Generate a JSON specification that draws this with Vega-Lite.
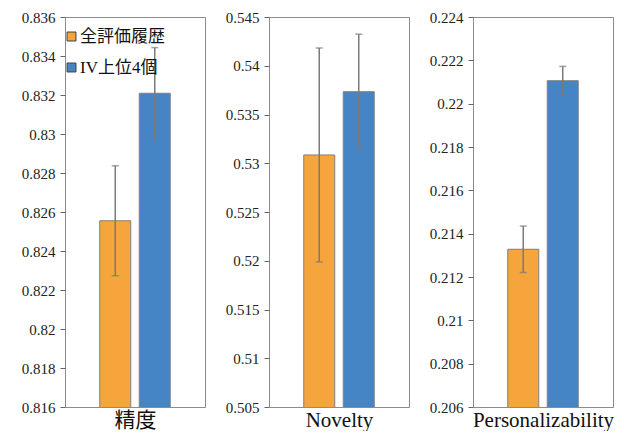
{
  "$schema": "https://vega.github.io/schema/vega-lite/v6.json",
  "padding": {"left": 20, "top": 9, "right": 5, "bottom": 0},
  "background": "white",
  "config": {
    "view": {"stroke": "#8c8c8c", "strokeWidth": 1},
    "font": "Times New Roman, Liberation Serif, serif",
    "axis": {"grid": false, "domain": false, "tickColor": "#666666", "labelColor": "#222222", "labelFont": "Times New Roman, Liberation Serif, serif", "labelFontSize": 15, "titleFont": "Times New Roman, Liberation Serif, Noto Sans CJK JP, serif", "titleFontSize": 21, "titleFontWeight": "normal", "titleColor": "#111111"},
    "legend": {"labelFont": "Times New Roman, Liberation Serif, Noto Sans CJK JP, serif"},
    "concat": {"spacing": 18}
  },
  "datasets": {
    "d": [
      {"metric": "精度", "method": "全評価履歴", "value": 0.82555, "err": 0.00282},
      {"metric": "精度", "method": "IV上位4個", "value": 0.83209, "err": 0.00234},
      {"metric": "Novelty", "method": "全評価履歴", "value": 0.53085, "err": 0.01097},
      {"metric": "Novelty", "method": "IV上位4個", "value": 0.53734, "err": 0.0059},
      {"metric": "Personalizability", "method": "全評価履歴", "value": 0.21328, "err": 0.00107},
      {"metric": "Personalizability", "method": "IV上位4個", "value": 0.22106, "err": 0.00066}
    ]
  },
  "resolve": {"legend": {"fill": "independent"}, "scale": {"y": "independent"}},
  "hconcat": [
    {
      "width": 140, "height": 390,
      "data": {"name": "d"},
      "transform": [{"filter": "datum.metric === '精度'"}],
      "encoding": {
        "x": {"field": "method", "type": "nominal", "sort": ["全評価履歴", "IV上位4個"], "scale": {"paddingInner": 0.215, "paddingOuter": 0.88}, "axis": {"title": "精度", "labels": false, "ticks": false, "titlePadding": 2}},
        "y": {"field": "value", "type": "quantitative", "scale": {"domain": [0.816, 0.836], "zero": false, "nice": false}, "axis": {"title": null, "values": [0.816, 0.818, 0.82, 0.822, 0.824, 0.826, 0.828, 0.83, 0.832, 0.834, 0.836], "format": "~g", "tickSize": 5, "labelPadding": 5}}
      },
      "layer": [
        {"mark": {"type": "bar", "stroke": "#7f7f7f", "strokeWidth": 1, "clip": true},
         "encoding": {"fill": {"field": "method", "type": "nominal", "scale": {"domain": ["全評価履歴", "IV上位4個"], "range": ["#F5A53C", "#4585C6"]},
           "legend": {"orient": "none", "legendX": -2, "legendY": 11, "padding": 0, "title": null, "symbolType": "square", "symbolSize": 80, "symbolStrokeColor": "#404040", "symbolStrokeWidth": 1, "labelFontSize": 17, "labelColor": "#111111", "rowPadding": 13, "labelOffset": 0}}}},
        {"mark": {"type": "errorbar", "ticks": {"size": 7}, "color": "#7a7a7a", "thickness": 1.5}, "encoding": {"yError": {"field": "err"}}}
      ]
    },
    {
      "width": 140, "height": 390,
      "data": {"name": "d"},
      "transform": [{"filter": "datum.metric === 'Novelty'"}],
      "encoding": {
        "x": {"field": "method", "type": "nominal", "sort": ["全評価履歴", "IV上位4個"], "scale": {"paddingInner": 0.215, "paddingOuter": 0.88}, "axis": {"title": "Novelty", "labels": false, "ticks": false, "titlePadding": 2}},
        "y": {"field": "value", "type": "quantitative", "scale": {"domain": [0.505, 0.545], "zero": false, "nice": false}, "axis": {"title": null, "values": [0.505, 0.51, 0.515, 0.52, 0.525, 0.53, 0.535, 0.54, 0.545], "format": "~g", "tickSize": 5, "labelPadding": 5}}
      },
      "layer": [
        {"mark": {"type": "bar", "stroke": "#7f7f7f", "strokeWidth": 1, "clip": true},
         "encoding": {"fill": {"field": "method", "type": "nominal", "scale": {"domain": ["全評価履歴", "IV上位4個"], "range": ["#F5A53C", "#4585C6"]}, "legend": null}}},
        {"mark": {"type": "errorbar", "ticks": {"size": 7}, "color": "#7a7a7a", "thickness": 1.5}, "encoding": {"yError": {"field": "err"}}}
      ]
    },
    {
      "width": 140, "height": 390,
      "data": {"name": "d"},
      "transform": [{"filter": "datum.metric === 'Personalizability'"}],
      "encoding": {
        "x": {"field": "method", "type": "nominal", "sort": ["全評価履歴", "IV上位4個"], "scale": {"paddingInner": 0.215, "paddingOuter": 0.88}, "axis": {"title": "Personalizability", "labels": false, "ticks": false, "titlePadding": 2}},
        "y": {"field": "value", "type": "quantitative", "scale": {"domain": [0.206, 0.224], "zero": false, "nice": false}, "axis": {"title": null, "values": [0.206, 0.208, 0.21, 0.212, 0.214, 0.216, 0.218, 0.22, 0.222, 0.224], "format": "~g", "tickSize": 5, "labelPadding": 5}}
      },
      "layer": [
        {"mark": {"type": "bar", "stroke": "#7f7f7f", "strokeWidth": 1, "clip": true},
         "encoding": {"fill": {"field": "method", "type": "nominal", "scale": {"domain": ["全評価履歴", "IV上位4個"], "range": ["#F5A53C", "#4585C6"]}, "legend": null}}},
        {"mark": {"type": "errorbar", "ticks": {"size": 7}, "color": "#7a7a7a", "thickness": 1.5}, "encoding": {"yError": {"field": "err"}}}
      ]
    }
  ]
}
